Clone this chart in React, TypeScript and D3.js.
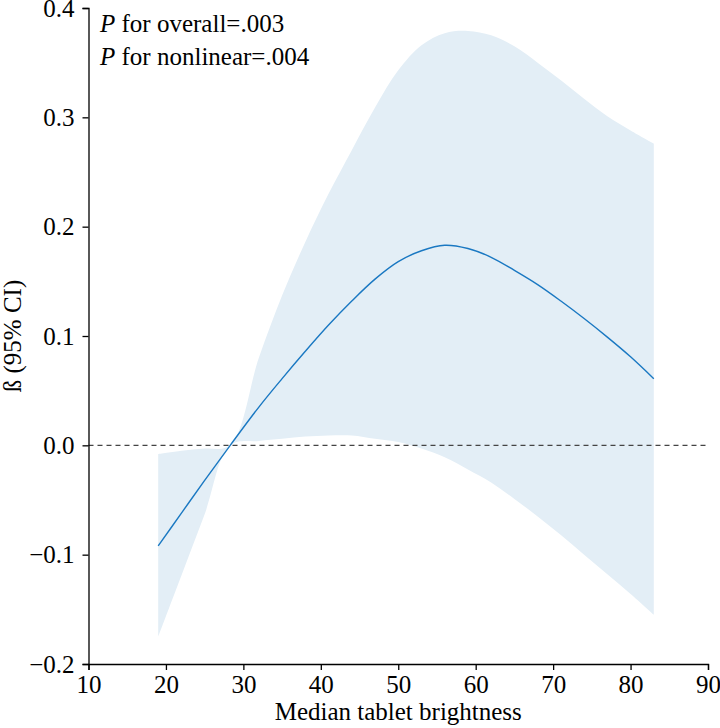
import React, { useEffect, useRef } from "react";
import * as d3 from "d3";

const xs = [19, 22, 25, 28.3, 32, 35, 38, 41, 44, 47, 50, 53, 56, 59, 62, 65, 68, 71, 74, 77, 80, 83];
const beta = [-0.092, -0.062, -0.032, 0.0, 0.035, 0.061, 0.086, 0.11, 0.132, 0.152, 0.168, 0.178, 0.183, 0.18, 0.172, 0.16, 0.147, 0.132, 0.116, 0.099, 0.081, 0.061];
const upper = [-0.008, -0.005, -0.003, 0.0, 0.08, 0.137, 0.186, 0.23, 0.27, 0.309, 0.343, 0.366, 0.377, 0.379, 0.375, 0.365, 0.35, 0.334, 0.317, 0.301, 0.288, 0.276];
const lower = [-0.175, -0.119, -0.063, 0.0, 0.004, 0.006, 0.008, 0.009, 0.009, 0.006, 0.003, -0.003, -0.011, -0.022, -0.034, -0.049, -0.065, -0.082, -0.1, -0.118, -0.136, -0.155];

const xTicks = [10, 20, 30, 40, 50, 60, 70, 80, 90];
const yTicks = [-0.2, -0.1, 0.0, 0.1, 0.2, 0.3, 0.4];

const pText = [
  ["P", " for overall=.003"],
  ["P", " for nonlinear=.004"],
];

const FONT = "Liberation Serif";
const FS = 25;

export default function App() {
  const svgRef = useRef(null);

  useEffect(() => {
    d3.select(svgRef.current).selectAll("*").remove();

    const width = 720;
    const height = 728;
    const margin = { top: 8, right: 12, bottom: 64, left: 88.5 };

    const svg = d3.select(svgRef.current)
      .attr("width", width)
      .attr("height", height)
      .attr("font-family", FONT);

    const x = d3.scaleLinear().domain([10, 90]).range([margin.left, width - margin.right]);
    const y = d3.scaleLinear().domain([-0.2, 0.4]).range([height - margin.bottom, margin.top]);

    const rows = xs.map((v, i) => ({ x: v, b: beta[i], lo: lower[i], hi: upper[i] }));

    // confidence band
    const band = d3.area()
      .x((d) => x(d.x))
      .y0((d) => y(d.lo))
      .y1((d) => y(d.hi))
      .curve(d3.curveCatmullRom.alpha(0.5));

    svg.append("path")
      .datum(rows)
      .attr("d", band)
      .style("fill", "#e3eef6");

    // reference line at 0
    svg.append("line")
      .attr("x1", x(10))
      .attr("x2", x(90))
      .attr("y1", y(0))
      .attr("y2", y(0))
      .style("stroke", "#444")
      .style("stroke-width", 1.2)
      .style("stroke-dasharray", "5,4");

    // fitted curve
    const line = d3.line()
      .x((d) => x(d.x))
      .y((d) => y(d.b))
      .curve(d3.curveCatmullRom.alpha(0.5));

    svg.append("path")
      .datum(rows)
      .attr("d", line)
      .style("fill", "none")
      .style("stroke", "#1a78c2")
      .style("stroke-width", 1.4);

    // axes
    const xAxis = svg.append("g")
      .attr("transform", `translate(0, ${y(-0.2)})`)
      .call(d3.axisBottom(x).tickValues(xTicks).tickSize(6).tickPadding(5).tickFormat(d3.format("d")));

    const yAxis = svg.append("g")
      .attr("transform", `translate(${x(10)}, 0)`)
      .call(d3.axisLeft(y).tickValues(yTicks).tickSize(6).tickPadding(8)
        .tickFormat((d) => d3.format(".1f")(d).replace("-", "\u2212")));

    [xAxis, yAxis].forEach((g) => {
      g.attr("font-family", FONT).attr("font-size", FS);
      g.select(".domain").style("stroke", "#000").style("stroke-width", 1.3);
      g.selectAll(".tick line").style("stroke", "#000").style("stroke-width", 1.3);
      g.selectAll(".tick text").style("fill", "#000");
    });

    svg.append("text")
      .attr("x", (x(10) + x(90)) / 2)
      .attr("y", 720)
      .attr("text-anchor", "middle")
      .attr("font-size", FS)
      .text("Median tablet brightness");

    svg.append("text")
      .attr("transform", `translate(21, ${(y(-0.2) + y(0.4)) / 2}) rotate(-90)`)
      .attr("text-anchor", "middle")
      .attr("font-size", FS)
      .text("\u00df (95% CI)");

    // P values
    pText.forEach(([p, rest], i) => {
      const t = svg.append("text")
        .attr("x", 100)
        .attr("y", 32 + i * 33)
        .attr("font-size", FS);
      t.append("tspan").attr("font-style", "italic").text(p);
      t.append("tspan").text(rest);
    });
  }, []);

  return (
    <div style={{ position: "absolute", left: 0, top: 0 }}>
      <svg ref={svgRef} style={{ display: "block" }}></svg>
    </div>
  );
}
